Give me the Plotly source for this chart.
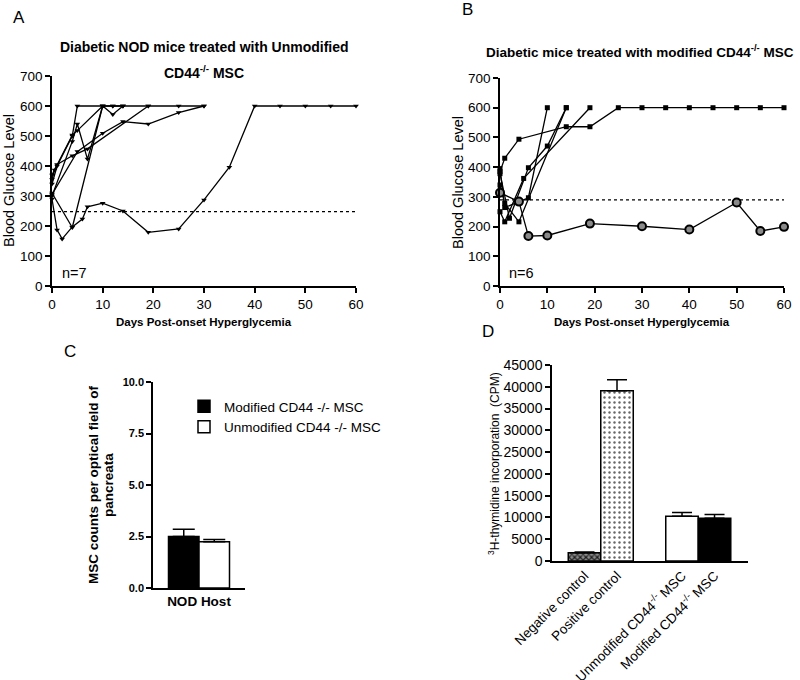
import plotly.graph_objects as go

FONT = "Liberation Sans, Arial, sans-serif"

# ---------------- Panel A: unmodified CD44-/- MSC (7 mice) ----------------
a_m1_days = [0, 1, 2, 4, 6, 7, 10, 14, 19, 25, 30, 35, 40, 45, 50, 55, 60]
a_m1_glu = [290, 187, 157, 197, 223, 264, 276, 250, 179, 190, 287, 396, 600, 600, 600, 600, 600]
a_m2_days = [0, 4, 10, 12, 14]
a_m2_glu = [310, 195, 600, 600, 600]
a_m3_days = [0, 1, 4, 5, 10, 12, 14, 19, 25, 30]
a_m3_glu = [340, 400, 500, 600, 600, 600, 600, 600, 600, 600]
a_m4_days = [0, 5, 10, 14, 19, 25, 30]
a_m4_glu = [305, 448, 509, 548, 540, 578, 600]
a_m5_days = [0, 4, 5, 7, 10, 12, 14]
a_m5_glu = [300, 482, 540, 423, 600, 572, 600]
a_m6_days = [0, 1, 4, 7, 19]
a_m6_glu = [370, 405, 434, 457, 600]
a_m7_days = [0, 0.5, 4, 5, 10]
a_m7_glu = [355, 387, 503, 518, 600]
a_threshold = 248

# ---------------- Panel B: modified CD44-/- MSC (6 mice) ----------------
b_m1_days = [0, 4, 6, 10, 19, 30, 40, 50, 55, 60]
b_m1_glu = [314, 284, 168, 170, 210, 201, 190, 281, 185, 199]
b_m2_days = [0, 1, 4, 14, 19, 25, 30, 35, 40, 45, 50, 55, 60]
b_m2_glu = [385, 430, 494, 536, 536, 600, 600, 600, 600, 600, 600, 600, 600]
b_m3_days = [0, 1, 6, 10]
b_m3_glu = [395, 264, 297, 600]
b_m4_days = [0, 2, 6, 10, 14]
b_m4_glu = [378, 228, 398, 471, 600]
b_m5_days = [0, 1, 4, 14]
b_m5_glu = [340, 278, 216, 600]
b_m6_days = [0, 1, 5, 19]
b_m6_glu = [250, 216, 362, 600]
b_threshold = 290

# ---------------- Panel C ----------------
c_category = ["NOD Host"]
c_modified = [2.5]
c_modified_err = [0.35]
c_unmodified = [2.25]
c_unmodified_err = [0.1]

# ---------------- Panel D ----------------
d_categories = ["Negative control", "Positive control", "gap",
                "Unmodified CD44-/- MSC", "Modified CD44-/- MSC"]
d_ticktext = ["Negative control", "Positive control", " ",
              "Unmodified CD44<sup>-/-</sup> MSC", "Modified CD44<sup>-/-</sup> MSC"]
d_values = [1900, 39100, None, 10300, 9800]
d_errors = [150, 2500, 0, 850, 900]

# bar styles (appearance only)
d_fill = ["#8c8c8c", "white", "white", "white", "black"]
d_pattern = [dict(shape="x", fgcolor="#1e1e1e", bgcolor="#8c8c8c", size=4, solidity=0.5),
             dict(shape=".", fgcolor="#666666", bgcolor="white", size=5, solidity=0.18),
             None, None, None]

fig = go.Figure()

line_style = dict(color="black", width=1.3)

a_series = [(a_m1_days, a_m1_glu), (a_m2_days, a_m2_glu), (a_m3_days, a_m3_glu),
            (a_m4_days, a_m4_glu), (a_m5_days, a_m5_glu), (a_m6_days, a_m6_glu),
            (a_m7_days, a_m7_glu)]
fig.add_trace(go.Scatter(x=[0, 60], y=[a_threshold, a_threshold], mode="lines",
                         line=dict(color="black", width=1.2, dash="dot"),
                         xaxis="x", yaxis="y", showlegend=False))
for d, g in a_series:
    fig.add_trace(go.Scatter(x=d, y=g, mode="lines+markers", line=line_style,
                             marker=dict(symbol="triangle-down", size=5, color="black"),
                             xaxis="x", yaxis="y", showlegend=False, cliponaxis=False))

b_series = [(b_m2_days, b_m2_glu), (b_m3_days, b_m3_glu), (b_m4_days, b_m4_glu),
            (b_m5_days, b_m5_glu), (b_m6_days, b_m6_glu)]
fig.add_trace(go.Scatter(x=[0, 60], y=[b_threshold, b_threshold], mode="lines",
                         line=dict(color="black", width=1.2, dash="dot"),
                         xaxis="x2", yaxis="y2", showlegend=False))
for d, g in b_series:
    fig.add_trace(go.Scatter(x=d, y=g, mode="lines+markers", line=line_style,
                             marker=dict(symbol="square", size=5, color="black"),
                             xaxis="x2", yaxis="y2", showlegend=False, cliponaxis=False))
fig.add_trace(go.Scatter(x=b_m1_days, y=b_m1_glu, mode="lines+markers", line=line_style,
                         marker=dict(symbol="circle", size=8, color="#8a8a8a",
                                     line=dict(color="black", width=2)),
                         xaxis="x2", yaxis="y2", showlegend=False, cliponaxis=False))

# Panel C bars
fig.add_trace(go.Bar(x=c_category, y=c_modified, name="Modified CD44 -/- MSC",
                     marker=dict(color="black", line=dict(color="black", width=1.5)),
                     error_y=dict(type="data", array=c_modified_err, arrayminus=[0],
                                  symmetric=False, color="black", thickness=1.5, width=11),
                     xaxis="x3", yaxis="y3"))
fig.add_trace(go.Bar(x=c_category, y=c_unmodified, name="Unmodified CD44 -/- MSC",
                     marker=dict(color="white", line=dict(color="black", width=1.5)),
                     error_y=dict(type="data", array=c_unmodified_err, arrayminus=[0],
                                  symmetric=False, color="black", thickness=1.5, width=11),
                     xaxis="x3", yaxis="y3"))

# Panel D bars (one trace per bar so each gets its own fill pattern)
for i, cat in enumerate(d_categories):
    if d_values[i] is None:
        continue
    mk = dict(color=d_fill[i], line=dict(color="black", width=1.5))
    if d_pattern[i] is not None:
        mk["pattern"] = d_pattern[i]
    fig.add_trace(go.Bar(x=[cat], y=[d_values[i]], width=1, offset=-0.5, showlegend=False,
                         marker=mk,
                         error_y=dict(type="data", array=[d_errors[i]], arrayminus=[0],
                                      symmetric=False, color="black", thickness=1.5, width=10),
                         xaxis="x4", yaxis="y4"))

def px(x):
    return x / 800.0

def py(y):
    return 1 - y / 680.0

axis_common = dict(showline=True, linecolor="black", linewidth=1.5, ticks="outside",
                   tickcolor="black", tickwidth=1.5, ticklen=5, showgrid=False,
                   zeroline=False, mirror=False, automargin=False)
tick_font = dict(family=FONT, size=13.5, color="black")

fig.update_layout(
    template="none",
    width=800, height=680, margin=dict(l=0, r=0, t=0, b=0, pad=0), autosize=False,
    paper_bgcolor="white", plot_bgcolor="white",
    barmode="group", bargap=0.337, bargroupgap=0,
    font=dict(family=FONT, color="black"),
    xaxis=dict(domain=[px(52), px(356)], anchor="y", range=[0, 60],
               tickvals=[0, 10, 20, 30, 40, 50, 60], tickfont=tick_font, **axis_common),
    yaxis=dict(domain=[py(286), py(76)], anchor="x", range=[0, 700], dtick=100,
               tickfont=tick_font, **axis_common),
    xaxis2=dict(domain=[px(500), px(784)], anchor="y2", range=[0, 60],
                tickvals=[0, 10, 20, 30, 40, 50, 60], tickfont=tick_font, **axis_common),
    yaxis2=dict(domain=[py(286), py(78)], anchor="x2", range=[0, 700], dtick=100,
                tickfont=tick_font, **axis_common),
    xaxis3=dict(domain=[px(153), px(245)], anchor="y3", range=[-0.5, 0.5],
                showline=True, linecolor="black", linewidth=1.5, ticks="",
                showgrid=False, zeroline=False, automargin=False,
                tickfont=dict(family=FONT, size=13.5, color="black", weight="bold")),
    yaxis3=dict(domain=[py(588), py(382)], anchor="x3", range=[0, 10],
                tickvals=[0, 2.5, 5, 7.5, 10], ticktext=["0.0", "2.5", "5.0", "7.5", "10.0"],
                tickfont=dict(family=FONT, size=11, color="black", weight="bold"),
                **axis_common),
    xaxis4=dict(domain=[px(552), px(748)], anchor="y4", range=[-1, 5.03],
                type="category", categoryorder="array", categoryarray=d_categories,
                tickvals=d_categories, ticktext=d_ticktext, tickangle=-45,
                showline=True, linecolor="black", linewidth=1.5, ticks="",
                showgrid=False, zeroline=False, automargin=False,
                tickfont=dict(family=FONT, size=13.5, color="black")),
    yaxis4=dict(domain=[py(561), py(365)], anchor="x4", range=[0, 45000],
                tickvals=[0, 5000, 10000, 15000, 20000, 25000, 30000, 35000, 40000, 45000],
                tickformat="d",
                tickfont=dict(family=FONT, size=14, color="black"), **axis_common),
    legend=dict(x=px(184), y=py(391), xanchor="left", yanchor="top",
                bgcolor="rgba(0,0,0,0)", font=dict(family=FONT, size=13.5, color="black"),
                tracegroupgap=0, itemwidth=30),
)

ann = []
def add_text(text, x, y, size, bold=False, angle=0):
    ann.append(dict(text=f"<b>{text}</b>" if bold else text, x=px(x), y=py(y),
                    xref="paper", yref="paper", showarrow=False, textangle=angle,
                    xanchor="center", yanchor="middle",
                    font=dict(family=FONT, size=size, color="black")))

add_text("A", 19, 17, 17)
add_text("B", 467, 10, 17)
add_text("C", 70, 351, 17)
add_text("D", 488, 331, 17)
add_text("Diabetic NOD mice treated with Unmodified", 204, 47, 14, bold=True)
add_text("CD44<sup>-/-</sup> MSC", 204, 72, 14, bold=True)
add_text("Diabetic mice treated with modified CD44<sup>-/-</sup> MSC", 640, 51, 13.5, bold=True)
add_text("Days Post-onset Hyperglycemia", 204, 322, 11.5, bold=True)
add_text("Days Post-onset Hyperglycemia", 642, 322, 11.5, bold=True)
add_text("Blood Glucose Level", 9, 181, 14.5, angle=-90)
add_text("Blood Glucose Level", 458, 183, 14.5, angle=-90)
add_text("n=7", 74, 273, 14.5)
add_text("n=6", 521, 273, 14.5)
add_text("MSC counts per optical field of", 93, 485, 13.5, bold=True, angle=-90)
add_text("pancreata", 108, 485, 13.5, bold=True, angle=-90)
add_text("<sup>3</sup>H-thymidine incorporation  (CPM)", 494, 464, 12, angle=-90)
fig.update_layout(annotations=ann)

fig.write_html("out.html", config={"displayModeBar": False},
               post_script="document.body.style.margin='0';document.body.style.padding='0';")
